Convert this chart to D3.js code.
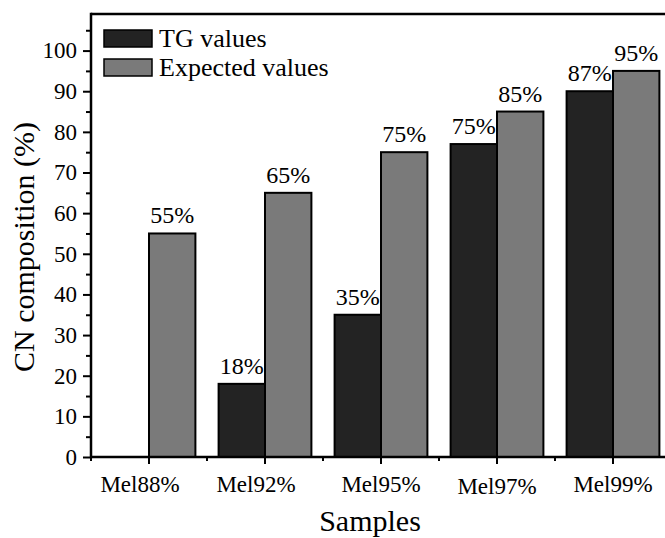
<!DOCTYPE html>
<html>
<head>
<meta charset="utf-8">
<script src="https://cdn.jsdelivr.net/npm/d3@7"></script>
</head>
<body style="margin:0">
<svg id="chart" width="665" height="538"></svg>
<script>
// ---- data ----
const categories = ["Mel88%", "Mel92%", "Mel95%", "Mel97%", "Mel99%"];
const tgValues = [null, 18, 35, 77, 90];
const tgLabels = [null, "18%", "35%", "75%", "87%"];
const expectedValues = [55, 65, 75, 85, 95];
const expectedLabels = ["55%", "65%", "75%", "85%", "95%"];
const seriesNames = ["TG values", "Expected values"];
const yTicks = [0, 10, 20, 30, 40, 50, 60, 70, 80, 90, 100];
const yMinorTicks = [5, 15, 25, 35, 45, 55, 65, 75, 85, 95, 105];

// ---- layout / style ----
const FONT = "Liberation Serif";
const svg = d3.select("#chart");
const pLeft = 91, pRight = 671, pTop = 14, pBottom = 457;
const colors = ["#232323", "#7a7a7a"];
const tickLabelShift = [[-9, 0], [-9, 0], [0, 0], [0, 2], [0, 0]];

const x = d3.scaleBand().domain(categories).range([pLeft, pRight]).paddingInner(0).paddingOuter(0);
const y = d3.scaleLinear().domain([0, 109]).range([pBottom, pTop]);
const barW = x.bandwidth() * 0.4;

function label(sel, size) {
  return sel.attr("font-family", FONT).style("font-family", FONT).style("font-size", size + "px").attr("fill", "#000");
}

// bars
const series = [
  { values: tgValues, labels: tgLabels, off: -1, color: colors[0] },
  { values: expectedValues, labels: expectedLabels, off: 0, color: colors[1] }
];
series.forEach(s => {
  categories.forEach((c, i) => {
    const v = s.values[i];
    if (v == null) return;
    const cx = x(c) + x.bandwidth() / 2;
    const x0 = cx + s.off * barW;
    svg.append("rect")
      .attr("x", x0).attr("y", y(v))
      .attr("width", barW).attr("height", y(0) - y(v))
      .attr("fill", s.color).attr("stroke", "#000").attr("stroke-width", 2);
    label(svg.append("text"), 24)
      .attr("x", x0 + barW / 2).attr("y", y(v) - 10)
      .attr("text-anchor", "middle")
      .text(s.labels[i]);
  });
});

// y axis
const yAxis = d3.axisLeft(y).tickValues(yTicks).tickSize(8).tickPadding(6).tickFormat(d3.format("d"));
const ya = svg.append("g").attr("transform", `translate(${pLeft},0)`).call(yAxis);
ya.attr("font-family", FONT).attr("font-size", 23);
ya.select(".domain").remove();
ya.selectAll("line").attr("stroke", "#000").attr("stroke-width", 2);
label(ya.selectAll("text"), 23);
const yMinor = d3.axisLeft(y).tickValues(yMinorTicks).tickSize(5).tickFormat("");
const ym = svg.append("g").attr("transform", `translate(${pLeft},0)`).call(yMinor);
ym.select(".domain").remove();
ym.selectAll("line").attr("stroke", "#000").attr("stroke-width", 2);

// x axis
const xAxis = d3.axisBottom(x).tickSize(7).tickPadding(12);
const xa = svg.append("g").attr("transform", `translate(0,${pBottom})`).call(xAxis);
xa.attr("font-family", FONT).attr("font-size", 23);
xa.select(".domain").remove();
xa.selectAll("line").attr("stroke", "#000").attr("stroke-width", 2);
label(xa.selectAll("text"), 23)
  .attr("transform", (d, i) => `translate(${tickLabelShift[i][0]},${tickLabelShift[i][1]})`);
// minor ticks at band edges
const edges = categories.map(c => x(c)).concat([pRight]);
svg.append("g").selectAll("line").data(edges).join("line")
  .attr("x1", d => d).attr("x2", d => d)
  .attr("y1", pBottom).attr("y2", pBottom + 4)
  .attr("stroke", "#000").attr("stroke-width", 2);

// spines
svg.append("line").attr("x1", pLeft).attr("x2", pLeft).attr("y1", pTop - 1.25).attr("y2", pBottom + 1.25)
  .attr("stroke", "#000").attr("stroke-width", 2.5);
svg.append("line").attr("x1", pLeft).attr("x2", pRight).attr("y1", pTop).attr("y2", pTop)
  .attr("stroke", "#000").attr("stroke-width", 2.5);
svg.append("line").attr("x1", pLeft).attr("x2", pRight).attr("y1", pBottom).attr("y2", pBottom)
  .attr("stroke", "#000").attr("stroke-width", 2.5);

// axis titles
label(svg.append("text"), 30).attr("x", 370).attr("y", 531).attr("text-anchor", "middle").text("Samples");
label(svg.append("text"), 30).attr("transform", "translate(34,247) rotate(-90)").attr("text-anchor", "middle")
  .text("CN composition (%)");

// legend
seriesNames.forEach((n, i) => {
  const yy = 30 + i * 29;
  svg.append("rect").attr("x", 104).attr("y", yy).attr("width", 48).attr("height", 17)
    .attr("fill", colors[i]).attr("stroke", "#000").attr("stroke-width", 1.5);
  label(svg.append("text"), 26).attr("x", 159).attr("y", yy + 16.5).text(n);
});
</script>
</body>
</html>
